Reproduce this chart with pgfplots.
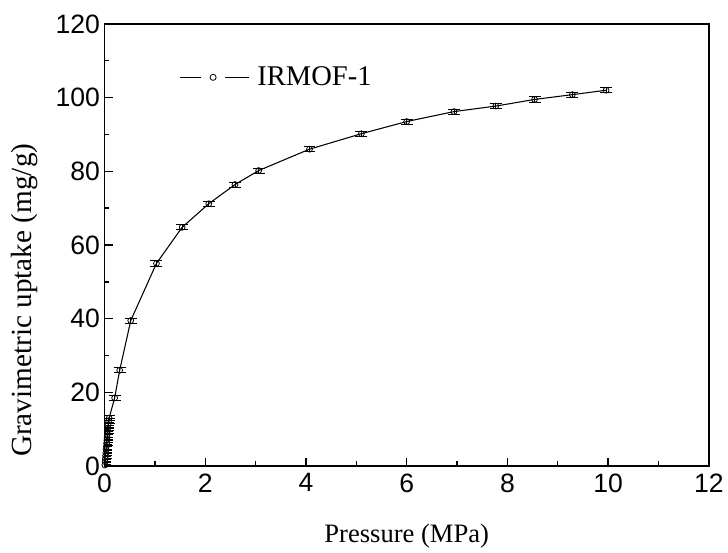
\documentclass[border=0pt]{standalone}
\usepackage{fontspec}
\setmainfont{Liberation Serif}
\setsansfont{Liberation Sans}
\usepackage{pgfplots}
\pgfplotsset{compat=1.18}
\begin{document}
\begin{tikzpicture}
  \begin{axis}[
    scale only axis,
    width=455pt, height=333pt,
    xmin=0, xmax=12, ymin=0, ymax=120,
    xtick={0,2,...,12}, ytick={0,20,...,120},
    minor x tick num=1, minor y tick num=1,
    xtick pos=bottom, ytick pos=left,
    tick align=inside,
    major tick length=6pt, minor tick length=3.5pt,
    axis line style={line width=1.1pt},
    every tick/.style={line width=1.1pt, black},
    /pgf/number format/assume math mode=true,
    ticklabel style={font=\sffamily\fontsize{20}{23}\selectfont},
    xticklabel style={yshift=-2pt},
    xlabel={Pressure (MPa)},
    ylabel={Gravimetric uptake (mg/g)},
    xlabel style={font=\fontsize{20}{23}\selectfont,
      at={(axis description cs:0.5,0)}, anchor=center, yshift=-53pt},
    ylabel style={font=\fontsize{22}{25}\selectfont,
      at={(axis description cs:0,0.375)}, anchor=center, yshift=60pt},
    legend style={draw=none, fill=none, at={(axis cs:1.48,105.5)}, anchor=west,
      font=\fontsize{21.5}{25}\selectfont, inner sep=0pt},
    legend cell align=left,
    legend image code/.code={
      \draw[line width=0.8pt] (0pt,0pt) -- (16pt,0pt);
      \draw[line width=0.6pt] (25pt,0pt) circle (2.3pt);
      \draw[line width=0.8pt] (34pt,0pt) -- (52pt,0pt);
    },
  ]
    \addplot[black, line width=0.8pt, mark=o,
      mark options={solid, fill=white, line width=0.6pt, scale=1.1},
      error bars/.cd, y dir=both, y fixed=0.7,
      error mark=-, error mark options={line width=0.7pt, mark size=4.5pt, rotate=90},
      error bar style={line width=0.7pt}]
      coordinates {
        (0.005,0.3) (0.01,1.2) (0.015,2.0) (0.02,2.8) (0.025,3.6)
        (0.03,4.5) (0.035,5.3) (0.04,6.2) (0.045,7.0) (0.05,7.8)
        (0.055,8.6) (0.06,9.5) (0.065,10.3) (0.07,11.2) (0.08,12.3)
        (0.09,13.0) (0.2,18.5) (0.3,26.0) (0.52,39.5) (1.03,55.0)
        (1.54,64.8) (2.07,71.2) (2.59,76.4) (3.06,80.2) (4.07,86.0)
        (5.1,90.2) (6.0,93.5) (6.94,96.2) (7.77,97.7) (8.54,99.5)
        (9.29,100.8) (9.96,102.0)
      };
    \addlegendentry{\hspace{4pt}IRMOF-1}
  \end{axis}
  \useasboundingbox (-78.75pt,-61.5pt) rectangle (467.25pt,351pt);
\end{tikzpicture}
\end{document}
